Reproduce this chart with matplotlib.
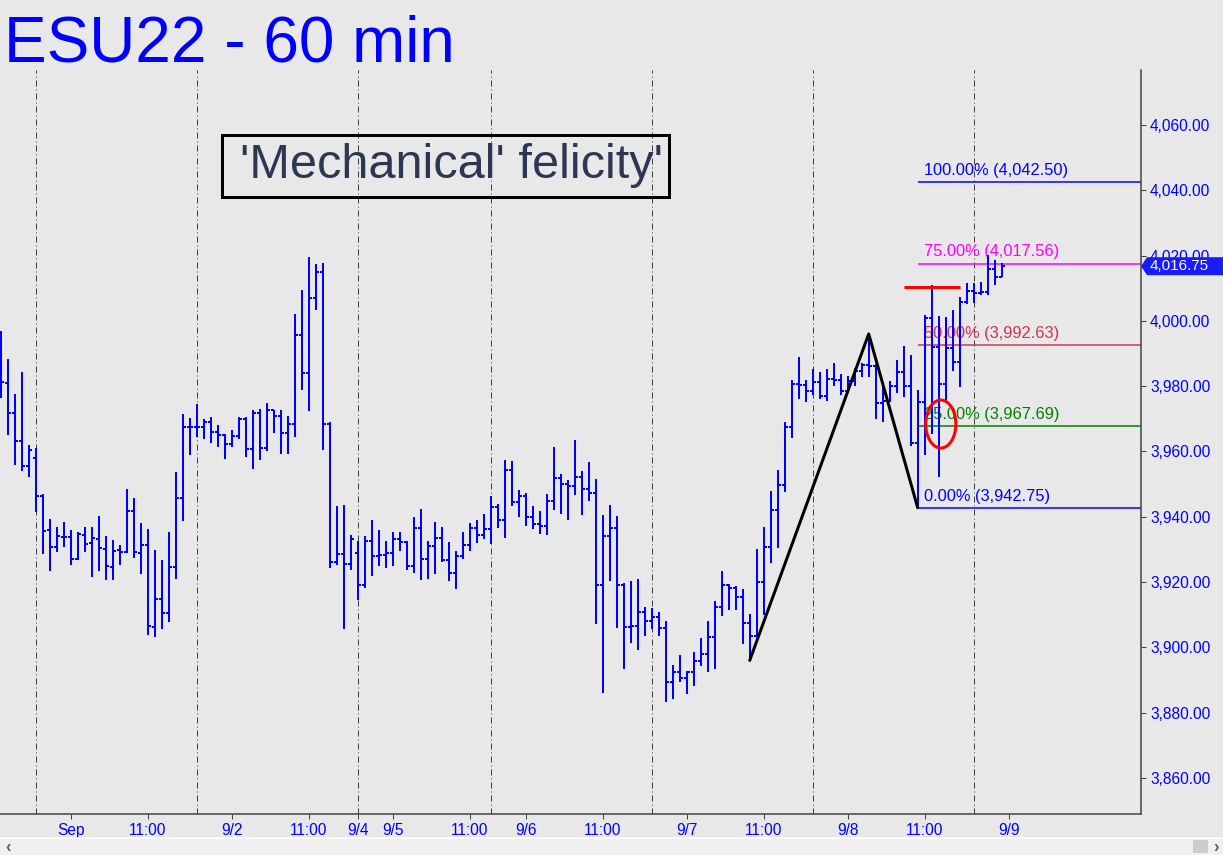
import numpy as np
import matplotlib
matplotlib.use("Agg")
import matplotlib.pyplot as plt
from matplotlib.patches import Rectangle, Ellipse, Polygon
from matplotlib.transforms import blended_transform_factory

plt.rcParams['font.family'] = ['Liberation Sans', 'DejaVu Sans']

# hourly OHLC bars, ESU22, 60 min
opens = [3983.0, 3981.0, 3971.7, 3963.1, 3955.6, 3957.9, 3946.3, 3935.9, 3930.8, 3933.7,
         3933.7, 3927.2, 3934.4, 3931.9, 3933.1, 3930.0, 3924.5, 3929.8, 3929.1, 3941.7,
         3928.8, 3931.3, 3906.1, 3914.7, 3910.4, 3924.5, 3945.7, 3967.5, 3967.5, 3967.5,
         3969.1, 3965.9, 3964.9, 3962.3, 3964.6, 3969.9, 3960.7, 3971.8, 3961.0, 3972.6,
         3970.8, 3965.6, 3968.4, 3995.6, 3983.9, 4006.9, 4014.9, 3968.4, 3926.3, 3928.5,
         3925.4, 3929.0, 3919.1, 3932.6, 3928.0, 3928.3, 3928.8, 3933.2, 3932.2, 3924.9,
         3936.5, 3927.0, 3930.9, 3933.5, 3926.8, 3922.7, 3928.0, 3931.3, 3936.5, 3934.4,
         3936.3, 3942.9, 3939.0, 3954.3, 3944.5, 3946.4, 3939.8, 3937.7, 3937.2, 3944.8,
         3951.8, 3949.9, 3949.3, 3952.1, 3948.4, 3947.3, 3919.1, 3934.0, 3936.5, 3919.1,
         3906.1, 3906.4, 3910.7, 3908.0, 3909.3, 3906.0, 3889.5, 3892.4, 3890.5, 3892.4,
         3895.7, 3897.9, 3903.1, 3912.3, 3919.1, 3918.1, 3915.3, 3907.5, 3903.6, 3920.1,
         3930.6, 3942.1, 3949.7, 3967.4, 3980.7, 3980.5, 3978.6, 3981.2, 3977.1, 3982.1,
         3981.9, 3978.4, 3981.5, 3984.6, 3986.4, 3986.2, 3974.7, 3975.5, 3980.0, 3984.3,
         3980.0, 3962.5, 3975.1, 4000.9, 3992.1, 3980.6, 3991.6, 3987.5, 4005.8, 4009.3,
         4008.4, 4008.9, 4016.0, 4013.5]
highs = [3997.0, 3988.2, 3977.5, 3984.3, 3961.9, 3961.0, 3947.0, 3939.3, 3936.8, 3938.4,
         3935.8, 3935.2, 3936.8, 3936.8, 3940.2, 3934.1, 3932.9, 3931.4, 3948.5, 3945.8,
         3938.1, 3936.3, 3929.8, 3926.8, 3935.3, 3953.7, 3971.5, 3970.3, 3974.5, 3970.1,
         3970.6, 3968.0, 3965.3, 3966.5, 3970.5, 3970.7, 3972.6, 3972.9, 3974.7, 3972.7,
         3972.7, 3970.9, 4002.1, 4009.5, 4019.6, 4017.4, 4017.7, 3968.9, 3943.4, 3943.6,
         3934.4, 3932.7, 3934.1, 3939.1, 3935.9, 3932.6, 3935.3, 3935.3, 3932.7, 3939.9,
         3942.4, 3932.6, 3938.4, 3936.9, 3932.3, 3929.4, 3935.3, 3938.1, 3939.0, 3940.9,
         3946.4, 3943.9, 3957.4, 3957.1, 3948.2, 3947.3, 3943.3, 3941.8, 3947.0, 3961.4,
         3953.1, 3951.2, 3963.5, 3953.9, 3956.8, 3951.5, 3940.4, 3943.6, 3940.2, 3919.6,
         3920.3, 3920.9, 3912.4, 3912.1, 3910.7, 3908.0, 3894.6, 3897.7, 3892.9, 3898.5,
         3903.0, 3908.1, 3914.3, 3923.4, 3919.3, 3918.8, 3917.9, 3910.2, 3930.1, 3936.8,
         3947.9, 3954.3, 3968.9, 3981.9, 3988.8, 3981.8, 3985.2, 3984.3, 3985.2, 3987.0,
         3983.7, 3983.2, 3985.5, 3987.2, 3996.0, 3986.7, 3980.6, 3981.6, 3988.0, 3992.3,
         3989.4, 3978.8, 4001.8, 4011.0, 4001.5, 4001.1, 4003.4, 4007.2, 4011.6, 4011.5,
         4012.0, 4020.2, 4018.8, 4017.6]
lows = [3976.5, 3965.2, 3956.0, 3954.1, 3952.3, 3941.4, 3928.7, 3923.5, 3929.1, 3930.8,
        3925.3, 3926.8, 3929.1, 3921.5, 3923.5, 3920.5, 3920.5, 3925.1, 3928.8, 3927.3,
        3922.4, 3903.7, 3903.1, 3905.5, 3907.7, 3921.0, 3938.6, 3959.0, 3964.3, 3963.7,
        3962.5, 3961.5, 3957.6, 3961.3, 3963.9, 3958.2, 3954.7, 3957.3, 3960.2, 3965.8,
        3959.3, 3959.3, 3964.5, 3978.8, 3972.5, 4003.4, 3960.5, 3924.4, 3925.2, 3905.5,
        3923.7, 3914.5, 3918.1, 3922.0, 3925.0, 3924.4, 3925.0, 3929.6, 3923.6, 3922.9,
        3920.7, 3921.0, 3922.6, 3926.0, 3920.4, 3918.0, 3927.0, 3929.6, 3932.1, 3933.3,
        3931.6, 3936.7, 3933.4, 3943.4, 3940.0, 3937.3, 3936.4, 3934.8, 3934.5, 3942.2,
        3940.9, 3939.1, 3946.8, 3940.6, 3944.9, 3907.3, 3886.1, 3920.4, 3906.0, 3893.3,
        3901.4, 3899.3, 3903.6, 3905.7, 3903.6, 3883.2, 3884.1, 3889.4, 3885.6, 3888.3,
        3894.4, 3892.6, 3893.3, 3909.7, 3911.6, 3911.4, 3900.9, 3896.0, 3903.3, 3909.9,
        3925.7, 3930.5, 3947.7, 3964.0, 3976.1, 3975.3, 3977.3, 3976.1, 3975.5, 3980.1,
        3977.3, 3978.3, 3980.1, 3982.9, 3982.9, 3969.8, 3969.1, 3975.3, 3978.0, 3976.6,
        3961.8, 3942.75, 3958.9, 3965.5, 3952.3, 3975.3, 3984.6, 3979.6, 4005.1, 4005.4,
        4007.9, 4008.0, 4011.0, 4013.5]
closes = [3981.3, 3971.7, 3963.1, 3955.6, 3960.4, 3946.3, 3935.6, 3930.6, 3934.0, 3933.7,
          3927.0, 3934.6, 3931.7, 3933.4, 3930.3, 3924.8, 3929.5, 3929.1, 3941.7, 3929.1,
          3931.3, 3906.6, 3914.7, 3910.4, 3924.5, 3945.7, 3967.5, 3967.5, 3967.5, 3969.1,
          3965.9, 3964.9, 3962.3, 3964.6, 3969.9, 3960.7, 3971.8, 3961.0, 3972.6, 3970.8,
          3965.6, 3968.4, 3995.6, 3983.9, 4006.9, 4014.9, 3968.4, 3926.3, 3928.5, 3925.4,
          3933.2, 3919.1, 3932.6, 3928.0, 3928.3, 3928.8, 3933.2, 3932.2, 3924.9, 3936.5,
          3927.0, 3930.9, 3933.5, 3926.8, 3922.7, 3928.0, 3931.3, 3936.5, 3934.4, 3936.3,
          3942.9, 3939.0, 3954.3, 3944.5, 3946.4, 3939.8, 3937.7, 3937.2, 3944.8, 3951.8,
          3949.9, 3949.3, 3952.1, 3948.4, 3947.3, 3919.1, 3934.0, 3936.5, 3919.1, 3906.1,
          3906.4, 3910.7, 3908.0, 3909.3, 3906.0, 3889.5, 3892.4, 3890.5, 3892.4, 3895.7,
          3897.9, 3903.1, 3912.3, 3919.1, 3918.1, 3915.3, 3907.5, 3903.6, 3920.1, 3930.6,
          3942.1, 3949.7, 3967.4, 3980.7, 3980.5, 3978.6, 3981.2, 3977.1, 3982.1, 3981.9,
          3978.4, 3981.5, 3984.6, 3986.4, 3986.2, 3974.7, 3975.5, 3980.0, 3984.3, 3980.0,
          3962.5, 3975.1, 4000.9, 3992.1, 3980.6, 3991.6, 3987.5, 4005.8, 4009.3, 4008.4,
          4008.9, 4016.0, 4013.5, 4016.75]

# session separators and time axis labels (bar index)
session_starts = [5, 28, 51, 70, 93, 116, 139]
xtick_pos = [10, 21, 33, 44, 51, 56, 67, 75, 86, 98, 109, 121, 132, 144]
xtick_labels = ['Sep', '11:00', '9/2', '11:00', '9/4', '9/5', '11:00', '9/6', '11:00',
                '9/7', '11:00', '9/8', '11:00', '9/9']
yticks = [3860, 3880, 3900, 3920, 3940, 3960, 3980, 4000, 4020, 4040, 4060]

# fibonacci projection from bar 131
fib_pct = ['100.00%', '75.00%', '50.00%', '25.00%', '0.00%']
fib_val = [4042.50, 4017.56, 3992.63, 3967.69, 3942.75]
fib_col = ['#0000ff', '#ff00ff', '#cc3355', '#008000', '#0000ff']
fib_start = 131

# A-B-C pattern drawn by hand
abc_x = [107, 124, 131]
abc_y = [3896.0, 3996.0, 3942.75]
red_line = (129, 137, 4010.4)
circle = (134.3, 3968.4, 4.3, 14.7)
last_price = 4016.75

bg = '#e8e8e8'
W, H = 1223, 855
fig = plt.figure(figsize=(W / 100, H / 100), dpi=100, facecolor=bg)
ax = fig.add_axes([0, 41 / H, 1141 / W, (814 - 70) / H])
ax.set_facecolor(bg)

idx = np.arange(len(opens))
px = 72 / 100  # one pixel in points
ax.vlines(idx, lows, highs, color='#0000ff', lw=2 * px, zorder=3)
ax.hlines(opens, idx - 0.45, idx, color='#0000ff', lw=2 * px, zorder=3)
ax.hlines(closes, idx, idx + 0.45, color='#0000ff', lw=2 * px, zorder=3)

for s in session_starts:
    ax.axvline(s, color='#404040', lw=1 * px, ls=(0, (6, 3, 1, 3)), zorder=1)

xmax = 162.9
for pct, val, col in zip(fib_pct, fib_val, fib_col):
    ax.hlines(val, fib_start, xmax, color=col, lw=1.5 * px, zorder=2)
    ax.annotate('%s (%s)' % (pct, format(val, ',.2f')), (fib_start + 0.9, val),
                xytext=(0, 3), textcoords='offset points', color=col, fontsize=11.8,
                va='bottom', ha='left', zorder=1)

ax.plot(abc_x, abc_y, color='black', lw=3 * px, zorder=4, solid_capstyle='round')
ax.hlines(red_line[2], red_line[0], red_line[1], color='#ff0000', lw=3 * px, zorder=4)
ax.add_patch(Ellipse(circle[:2], circle[2], circle[3], fill=False, edgecolor='#ff0000',
                     lw=3 * px, zorder=5))

ax.set_xlim(-0.1, xmax)
ax.set_ylim(3848.97, 4076.84)
ax.yaxis.tick_right()
ax.set_yticks(yticks)
ax.set_yticklabels([format(v, ',.2f') for v in yticks])
ax.set_xticks(xtick_pos)
ax.set_xticklabels(xtick_labels)
ax.tick_params(axis='y', colors='#404040', labelcolor='#0000ff', labelsize=11.2,
               length=5 * px, pad=4 * px, width=1 * px)
ax.tick_params(axis='x', colors='#404040', labelcolor='#0000ff', labelsize=11.2,
               length=5 * px, pad=4 * px, width=1 * px)
for sp in ['top', 'left']:
    ax.spines[sp].set_visible(False)
for sp in ['bottom', 'right']:
    ax.spines[sp].set_color('#404040')
    ax.spines[sp].set_linewidth(1.5 * px)

# last price tag
tr = blended_transform_factory(ax.transAxes, ax.transData)
dy = 9 * 0.30628
x1 = 1147 / 1141
x2 = 1223 / 1141
ax.add_patch(Polygon([(1.0, last_price), (x1, last_price + dy), (x2, last_price + dy),
                      (x2, last_price - dy), (x1, last_price - dy)], closed=True,
                     transform=tr, facecolor='#1a1aff', edgecolor='none', clip_on=False,
                     zorder=6))
ax.text(1150 / 1141, last_price, format(last_price, ',.2f'), transform=tr, color='white',
        fontsize=11, va='center', ha='left', zorder=7, clip_on=False)

# title and comment box
fig.text(4 / W, 1 - 62 / H, 'ESU22 - 60 min', color='#0000ff', fontsize=46,
         va='baseline', ha='left')
fig.add_artist(Rectangle((222 / W, 1 - 197 / H), 447 / W, 62 / H, transform=fig.transFigure,
                         fill=False, edgecolor='black', lw=3 * px))
fig.text(451 / W, 1 - 165 / H, "'Mechanical' felicity'", color='#2d3652', fontsize=35,
         va='center', ha='center')

# scroll bar strip at the bottom
fig.add_artist(Rectangle((0, 0), 1, 17 / H, transform=fig.transFigure, facecolor='#f0f0f0',
                         edgecolor='none'))
fig.add_artist(plt.Line2D([0, 1], [17 / H, 17 / H], color='white', lw=1.5 * px))
fig.add_artist(Rectangle((1193 / W, 2 / H), 15 / W, 13 / H, transform=fig.transFigure,
                         facecolor='#cdcdcd', edgecolor='none'))
fig.text(8 / W, 8 / H, '‹', color='#606060', fontsize=12, va='center', ha='center',
         fontweight='bold')
fig.text(1216 / W, 8 / H, '›', color='#606060', fontsize=12, va='center', ha='center',
         fontweight='bold')

fig.savefig('out.png', dpi=100, facecolor=bg)
